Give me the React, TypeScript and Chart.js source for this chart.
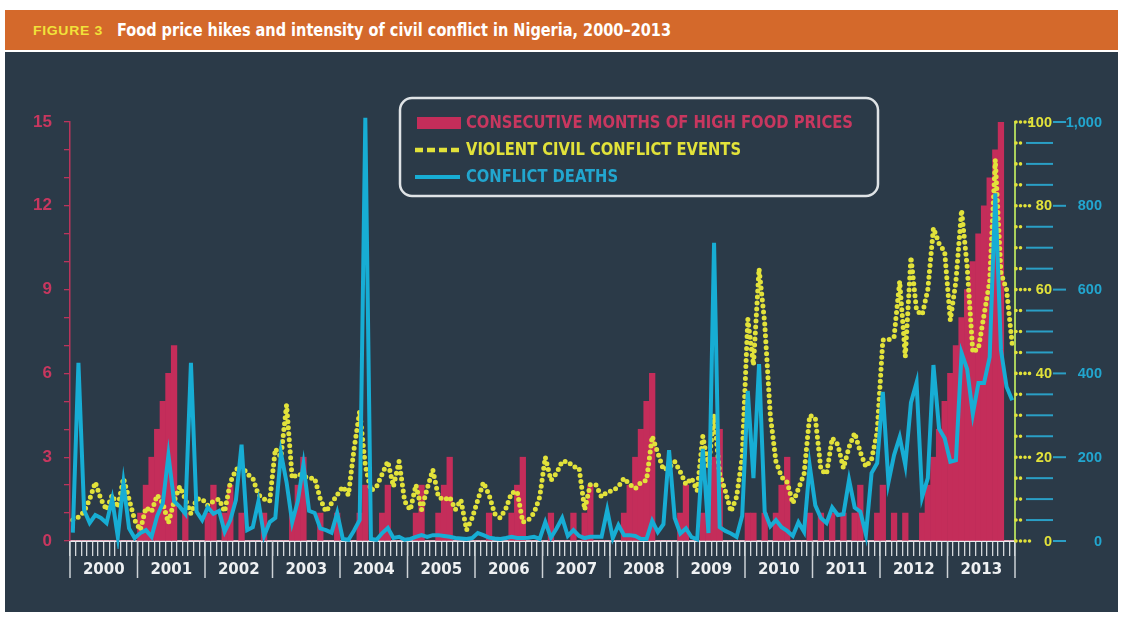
import React, { useEffect, useRef } from 'react';
import { Chart, registerables } from 'chart.js';

Chart.register(...registerables);

// ---------- data ----------
const YEARS = ['2000', '2001', '2002', '2003', '2004', '2005', '2006', '2007', '2008', '2009', '2010', '2011', '2012', '2013'];
const MONTH_NAMES = ['01', '02', '03', '04', '05', '06', '07', '08', '09', '10', '11', '12'];
const MONTHS = YEARS.flatMap((y) => MONTH_NAMES.map((m) => `${y}-${m}`));

// Consecutive months of high food prices (left axis, 0-15)
const HIGH_PRICE_MONTHS = [
  0, 0, 0, 0, 0, 0, 0, 0, 0, 0, 0, 0,
  1, 2, 3, 4, 5, 6, 7, 0, 1, 0, 0, 0,
  1, 2, 0, 1, 2, 0, 1, 0, 0, 0, 1, 0,
  0, 0, 0, 1, 2, 3, 0, 0, 1, 0, 0, 1,
  0, 0, 0, 1, 2, 0, 0, 1, 2, 0, 0, 0,
  0, 1, 2, 0, 0, 1, 2, 3, 0, 0, 0, 0,
  0, 0, 1, 0, 0, 0, 1, 2, 3, 0, 0, 0,
  0, 1, 0, 0, 0, 1, 0, 1, 2, 0, 0, 0,
  0, 0, 1, 2, 3, 4, 5, 6, 0, 0, 0, 0,
  1, 2, 0, 0, 1, 2, 3, 4, 0, 0, 0, 0,
  1, 1, 0, 1, 0, 1, 2, 3, 0, 0, 0, 1,
  0, 1, 0, 1, 0, 1, 0, 1, 2, 0, 0, 1,
  2, 0, 1, 0, 1, 0, 0, 1, 2, 3, 4, 5,
  6, 7, 8, 9, 10, 11, 12, 13, 14, 15, 0, 0,
];

// Violent civil conflict events (right axis, 0-100)
const CONFLICT_EVENTS = [
  5, 5.7, 7, 10, 14, 10, 7.4, 11, 8, 15, 10, 5,
  2.6, 8, 7, 11, 9, 4.3, 9.5, 13, 10, 6.5, 10, 10,
  8.5, 9.5, 10, 7, 14, 17, 18, 16, 15, 11, 10, 9.5,
  22, 20, 32.5, 15, 16, 15.5, 15, 15, 10, 7, 9, 11,
  13, 11, 22, 31, 18, 12, 13, 16, 19, 13, 19, 9.5,
  7.4, 13.4, 7.5, 12.5, 17, 10.5, 9.8, 10.5, 7.5, 9.8, 2.6, 5.5,
  9.8, 14, 11, 6.5, 5.5, 7.8, 11.5, 11.8, 4.5, 5, 6.7, 10.5,
  20, 14.5, 16.2, 19, 19, 17.7, 17.5, 7.5, 13.5, 13.4, 10.5, 11.7,
  12, 13, 15, 13.5, 12.5, 14, 14.5, 25, 21, 17, 17.5, 19,
  16.5, 13.5, 15, 12, 25, 17.5, 30, 16, 12, 7, 10.5, 20,
  53, 42, 65, 52, 30, 19, 15.3, 14, 9, 12.5, 16, 30,
  29.4, 17, 16, 24.6, 23, 17.4, 22.4, 25.8, 21.2, 17.7, 19.5, 26,
  48, 48, 48.7, 62, 44, 67.8, 55, 54, 60, 74.7, 71, 69,
  52.7, 62, 79, 65.4, 45, 46, 54, 62, 91, 64, 60, 47,
];

// Conflict deaths (right axis, 0-1,000)
const CONFLICT_DEATHS = [
  20, 425, 74, 43, 62, 55, 43, 100, 10, 138, 30, 7,
  19, 26, 10, 60, 90, 205, 95, 82, 65, 425, 70, 50,
  80, 65, 72, 22, 50, 98, 230, 26, 33, 95, 12, 45,
  55, 210, 140, 45, 95, 183, 72, 67, 30, 26, 20, 67,
  5, 3, 25, 50, 1010, 5, 3, 19, 31, 7, 10, 3,
  5, 10, 14, 10, 14, 14, 12, 10, 7, 6, 5, 7,
  19, 14, 8, 6, 5, 7, 10, 7, 7, 8, 10, 5,
  45, 8, 30, 55, 12, 26, 12, 7, 10, 10, 10, 74,
  7, 38, 14, 14, 12, 5, 5, 48, 21, 40, 217, 55,
  18, 30, 9, 4, 220, 19, 712, 33, 24, 18, 10, 60,
  358, 150, 422, 70, 35, 50, 33, 24, 12, 45, 22, 180,
  85, 55, 43, 80, 62, 64, 146, 80, 70, 15, 162, 186,
  356, 140, 205, 248, 181, 330, 378, 105, 150, 420, 268, 245,
  189, 193, 449, 410, 303, 377, 377, 439, 830, 456, 368, 336,
];

const LEFT_TICKS = [0, 3, 6, 9, 12, 15];
const EVENT_TICKS = [0, 20, 40, 60, 80, 100];
const DEATH_TICKS = [0, 200, 400, 600, 800, 1000];

// ---------- styles ----------
const BG = '#2b3a48';
const ORANGE = '#d4692b';
const RED = '#c42d5a';
const RED_TEXT = '#c8375f';
const YELLOW = '#e2e23a';
const BLUE = '#17add4';
const BLUE_TEXT = '#22a6cf';
const COND = '"Liberation Sans Narrow", "DejaVu Sans Condensed", "Arial Narrow", sans-serif';
const SANS = '"Liberation Sans", Arial, sans-serif';

function fitText(ctx: CanvasRenderingContext2D, text: string, x: number, y: number, width: number) {
  const w = ctx.measureText(text).width;
  ctx.save();
  ctx.translate(x, y);
  ctx.scale(width / w, 1);
  ctx.fillText(text, 0, 0);
  ctx.restore();
}

const decorPlugin = {
  id: 'decor',
  afterDraw(chart: any) {
    const { ctx, chartArea: ca, scales } = chart;
    const xs = scales.x;
    const yE = scales.yE;
    const yD = scales.yD;
    ctx.save();

    // year boundaries and labels
    const step = xs.getPixelForValue(1) - xs.getPixelForValue(0);
    ctx.strokeStyle = '#cdd2d6';
    ctx.lineWidth = 1.5;
    for (let i = 0; i <= YEARS.length; i++) {
      const x = i < YEARS.length
        ? xs.getPixelForValue(i * 12) - step / 2
        : xs.getPixelForValue(MONTHS.length - 1) + step / 2;
      ctx.beginPath();
      ctx.moveTo(x, ca.bottom);
      ctx.lineTo(x, ca.bottom + 37);
      ctx.stroke();
    }
    ctx.fillStyle = '#eef0f2';
    ctx.font = 'bold 15px "DejaVu Sans", sans-serif';
    ctx.textAlign = 'center';
    ctx.textBaseline = 'middle';
    YEARS.forEach((y, i) => {
      const x0 = xs.getPixelForValue(i * 12) - step / 2;
      ctx.fillText(y, x0 + step * 6, ca.bottom + 29);
    });

    // right axes
    const R = ca.right;
    ctx.strokeStyle = '#a9d05c';
    ctx.lineWidth = 2;
    ctx.beginPath();
    ctx.moveTo(R, ca.top - 1);
    ctx.lineTo(R, ca.bottom);
    ctx.stroke();
    for (let ev = 0; ev <= 100; ev += 5) {
      const y = yE.getPixelForValue(ev);
      const labeled = ev % 20 === 0;
      ctx.setLineDash([0, 4.5]);
      ctx.lineCap = 'round';
      ctx.lineWidth = 3.6;
      ctx.strokeStyle = YELLOW;
      ctx.beginPath();
      ctx.moveTo(R + 1, y);
      ctx.lineTo(R + (labeled ? 15 : 10), y);
      ctx.stroke();
      ctx.setLineDash([]);
      ctx.lineCap = 'butt';
      ctx.lineWidth = 2;
      ctx.strokeStyle = '#2a9fc6';
      ctx.beginPath();
      if (labeled) {
        ctx.moveTo(R + 38, y);
        ctx.lineTo(R + 51, y);
      } else {
        ctx.moveTo(R + 11, y);
        ctx.lineTo(R + 38, y);
      }
      ctx.stroke();
    }
    ctx.font = `bold 14.5px ${SANS}`;
    ctx.textAlign = 'right';
    ctx.textBaseline = 'middle';
    ctx.fillStyle = YELLOW;
    EVENT_TICKS.forEach((v) => ctx.fillText(String(v), R + 37, yE.getPixelForValue(v) + 0.5));
    ctx.fillStyle = BLUE_TEXT;
    DEATH_TICKS.forEach((v) => ctx.fillText(v.toLocaleString('en-US'), R + 87, yD.getPixelForValue(v) + 0.5));

    // legend
    ctx.strokeStyle = '#dfe3e6';
    ctx.lineWidth = 2.5;
    ctx.beginPath();
    ctx.roundRect(395, 46, 478, 98, 12);
    ctx.stroke();

    ctx.fillStyle = RED;
    ctx.fillRect(412, 65, 44, 12);
    ctx.strokeStyle = YELLOW;
    ctx.lineWidth = 4.5;
    ctx.setLineDash([8, 4]);
    ctx.beginPath();
    ctx.moveTo(410, 98);
    ctx.lineTo(456, 98);
    ctx.stroke();
    ctx.setLineDash([]);
    ctx.strokeStyle = BLUE;
    ctx.lineWidth = 4;
    ctx.beginPath();
    ctx.moveTo(410, 125);
    ctx.lineTo(455, 125);
    ctx.stroke();

    ctx.font = `bold 18px ${COND}`;
    ctx.textAlign = 'left';
    ctx.textBaseline = 'middle';
    ctx.fillStyle = RED_TEXT;
    fitText(ctx, 'CONSECUTIVE MONTHS OF HIGH FOOD PRICES', 461, 71, 387);
    ctx.fillStyle = YELLOW;
    fitText(ctx, 'VIOLENT CIVIL CONFLICT EVENTS', 461, 98.5, 275);
    ctx.fillStyle = BLUE_TEXT;
    fitText(ctx, 'CONFLICT DEATHS', 461, 125.5, 152);

    ctx.restore();
  },
};

export default function App() {
  const canvasRef = useRef<HTMLCanvasElement>(null);
  const figRef = useRef<HTMLSpanElement>(null);
  const titleRef = useRef<HTMLSpanElement>(null);

  useEffect(() => {
    const fit = (el: HTMLElement | null, target: number) => {
      if (!el) return;
      el.style.transform = 'none';
      const w = el.getBoundingClientRect().width;
      if (w > 0) el.style.transform = `scaleX(${target / w})`;
    };
    fit(figRef.current, 70);
    fit(titleRef.current, 554);

    const chart = new Chart(canvasRef.current as HTMLCanvasElement, {
      type: 'bar',
      data: {
        labels: MONTHS,
        datasets: [
          {
            type: 'line',
            label: 'CONFLICT DEATHS',
            data: CONFLICT_DEATHS,
            yAxisID: 'yD',
            borderColor: BLUE,
            borderWidth: 4,
            pointRadius: 0,
            tension: 0,
            clip: 8,
            order: 1,
          } as any,
          {
            type: 'line',
            label: 'VIOLENT CIVIL CONFLICT EVENTS',
            data: CONFLICT_EVENTS,
            yAxisID: 'yE',
            borderColor: YELLOW,
            borderWidth: 5,
            borderDash: [0, 6],
            borderCapStyle: 'round',
            pointRadius: 0,
            tension: 0,
            order: 2,
          } as any,
          {
            type: 'bar',
            label: 'CONSECUTIVE MONTHS OF HIGH FOOD PRICES',
            data: HIGH_PRICE_MONTHS,
            yAxisID: 'y',
            backgroundColor: RED,
            borderWidth: 0,
            barPercentage: 1,
            categoryPercentage: 1,
            order: 3,
          } as any,
        ],
      },
      options: {
        responsive: false,
        animation: false,
        devicePixelRatio: 1,
        layout: { padding: { left: 0, right: 103, top: 70, bottom: 0 } },
        plugins: { legend: { display: false }, tooltip: { enabled: false } },
        scales: {
          x: {
            type: 'category',
            offset: true,
            grid: { drawOnChartArea: false, tickLength: 15, color: '#d3d7db', lineWidth: 1.3, offset: true },
            border: { color: '#e9ecee', width: 2 },
            ticks: { display: false, autoSkip: false },
            afterFit: (s: any) => { s.height = 71; },
          },
          y: {
            type: 'linear',
            position: 'left',
            min: 0,
            max: 15,
            ticks: {
              stepSize: 1,
              autoSkip: false,
              padding: 12,
              color: RED_TEXT,
              font: { family: SANS, size: 17, weight: 'bold' },
              callback: (v: any) => (LEFT_TICKS.includes(Number(v)) ? String(v) : ''),
            },
            grid: { drawOnChartArea: false, tickLength: 6, color: '#b9345b', lineWidth: 1.3 },
            border: { color: '#b9345b', width: 1.5 },
            afterFit: (s: any) => { s.width = 65; },
          },
          yE: { type: 'linear', display: false, min: 0, max: 100 },
          yD: { type: 'linear', display: false, min: 0, max: 1000 },
        },
      } as any,
      plugins: [decorPlugin],
    });
    return () => chart.destroy();
  }, []);

  return (
    <div style={{ position: 'absolute', left: 0, top: 0, width: 1123, height: 617, background: '#ffffff', overflow: 'hidden' }}>
      <div style={{ position: 'absolute', left: 5, top: 10, width: 1113, height: 40, background: ORANGE }}>
        <span
          ref={figRef}
          style={{
            position: 'absolute', left: 28, top: 1, lineHeight: '40px', display: 'inline-block', whiteSpace: 'nowrap',
            transformOrigin: 'left center', color: '#f1e23a', fontFamily: SANS, fontWeight: 'bold', fontSize: 12.5, letterSpacing: 0.6,
          }}
        >
          FIGURE 3
        </span>
        <span
          ref={titleRef}
          style={{
            position: 'absolute', left: 112, top: 0, lineHeight: '40px', display: 'inline-block', whiteSpace: 'nowrap',
            transformOrigin: 'left center', color: '#ffffff', fontFamily: COND, fontWeight: 'bold', fontSize: 18,
          }}
        >
          Food price hikes and intensity of civil conflict in Nigeria, 2000–2013
        </span>
      </div>
      <div style={{ position: 'absolute', left: 5, top: 52, width: 1113, height: 560, background: BG }}>
        <canvas ref={canvasRef} width={1113} height={560} style={{ display: 'block', width: 1113, height: 560 }} />
      </div>
    </div>
  );
}
